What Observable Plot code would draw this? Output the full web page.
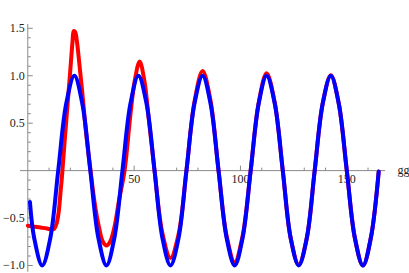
<!DOCTYPE html>
<html>
<head>
<meta charset="utf-8">
<script src="https://cdn.jsdelivr.net/npm/d3@7"></script>
<script src="https://cdn.jsdelivr.net/npm/@observablehq/plot@0.6"></script>
<style>
  html, body { margin: 0; padding: 0; background: #fff; }
  svg { display: block; }
</style>
</head>
<body>
<div id="chart"></div>
<script>
// Blue (steady) curve
const blueX = [1, 3.0, 6.8, 10.6, 14.3, 18.1, 21.9, 25.6, 29.4, 33.2, 37.0, 40.7, 44.5, 48.3, 52.0, 55.8, 59.6, 63.3, 67.1, 70.9, 74.6, 78.4, 82.2, 85.9, 89.7, 93.5, 97.3, 101.0, 104.8, 108.6, 112.3, 116.1, 119.9, 123.6, 127.4, 131.2, 134.9, 138.7, 142.5, 146.2, 150.0, 153.8, 157.6, 161.3, 165.0];
const blueY = [-0.33, -0.71, -1, -0.71, 0, 0.71, 1, 0.71, 0, -0.71, -1, -0.71, 0, 0.71, 1, 0.71, 0, -0.71, -1, -0.71, 0, 0.71, 1, 0.71, 0, -0.71, -1, -0.71, 0, 0.71, 1, 0.71, 0, -0.71, -1, -0.71, 0, 0.71, 1, 0.71, 0, -0.71, -1, -0.71, -0.01];

// Red (transient) curve
const redX = [0, 3, 6, 9, 11.5, 12.5, 13.5, 14.5, 15.5, 16.0, 17.5, 19.0, 20.2, 21.0, 21.6, 22.3, 23.0, 24.0, 25.5, 27.5, 29.5, 31.5, 33.5, 35.3, 37.0, 38.7, 40.7, 43.0, 45.5, 48.3, 50.3, 52.6, 54.8, 57.0, 59.6, 63.3, 67.1, 70.9, 74.6, 78.4, 82.2, 85.9, 89.7, 93.5, 97.3, 101.0, 104.8, 108.6, 112.3, 116.1, 119.9, 123.6, 127.4, 131.2, 134.9, 138.7, 142.5, 146.2, 150.0, 153.8, 157.6, 161.3, 165.0];
const redY = [-0.58, -0.59, -0.60, -0.61, -0.62, -0.61, -0.56, -0.44, -0.2, -0.08, 0.36, 0.78, 1.12, 1.35, 1.47, 1.46, 1.38, 1.18, 0.85, 0.38, 0, -0.35, -0.6, -0.75, -0.79, -0.75, -0.6, -0.3, 0, 0.6, 0.95, 1.15, 0.95, 0.52, 0, -0.66, -0.92, -0.67, 0, 0.73, 1.05, 0.74, 0, -0.69, -0.965, -0.69, 0, 0.72, 1.025, 0.72, 0, -0.71, -0.99, -0.71, 0, 0.71, 1.005, 0.71, 0, -0.71, -1, -0.71, -0.01];

// Axis ticks and labels
const xMajor = [50, 100, 150];
const xMinor = [10, 20, 30, 40, 60, 70, 80, 90, 110, 120, 130, 140, 160];
const yMajor = [-1.0, -0.5, 0.5, 1.0, 1.5];
const yMinor = [-0.9, -0.8, -0.7, -0.6, -0.4, -0.3, -0.2, -0.1, 0.1, 0.2, 0.3, 0.4, 0.6, 0.7, 0.8, 0.9, 1.1, 1.2, 1.3, 1.4];
const xLabels = ["50", "100", "150"];
const yLabels = ["\u22121.0", "\u22120.5", "0.5", "1.0", "1.5"];
const xAxisLabel = "gg";

const W = 409, H = 273;
const mL = 20, mR = 24, mT = 24, mB = 1.35;
const xDom = [-3.43, 168.2], yDom = [-1.07, 1.54];
const pxX = (W - mL - mR) / (xDom[1] - xDom[0]);
const pxY = (H - mT - mB) / (yDom[1] - yDom[0]);
const majLen = 5, minLen = 3;
const axisColor = "#8a8a8a";
const font = "'Liberation Serif', 'Times New Roman', serif";

const blue = blueX.map((x, i) => ({x, y: blueY[i]}));
const red = redX.map((x, i) => ({x, y: redY[i]}));
const xTicks = [...xMajor.map(v => ({v, l: majLen})), ...xMinor.map(v => ({v, l: minLen}))];
const yTicks = [...yMajor.map(v => ({v, l: majLen})), ...yMinor.map(v => ({v, l: minLen}))];

const plot = Plot.plot({
  width: W, height: H,
  marginLeft: mL, marginRight: mR, marginTop: mT, marginBottom: mB,
  x: {domain: xDom, axis: null},
  y: {domain: yDom, axis: null},
  style: {fontFamily: font, background: "#fff", overflow: "visible"},
  marks: [
    Plot.ruleY([0], {x1: xDom[0], x2: xDom[1], stroke: axisColor, strokeWidth: 1}),
    Plot.ruleX([0], {y1: yDom[0], y2: yDom[1], stroke: axisColor, strokeWidth: 1}),
    Plot.link(xTicks, {x1: d => d.v, x2: d => d.v, y1: 0, y2: d => d.l / pxY, stroke: axisColor, strokeWidth: 1}),
    Plot.link(yTicks, {y1: d => d.v, y2: d => d.v, x1: 0, x2: d => d.l / pxX, stroke: axisColor, strokeWidth: 1}),
    Plot.text(xMajor, {x: d => d, y: 0, text: (d, i) => xLabels[i], dy: 9, fontSize: 12, fill: "#222", textAnchor: "middle"}),
    Plot.text(yMajor, {x: 0, y: d => d, text: (d, i) => yLabels[i], dx: -3, fontSize: 12, fill: "#222", textAnchor: "end"}),
    Plot.text([xAxisLabel], {x: xDom[1], y: 0, text: d => d, dx: 12, dy: 0, fontSize: 12, fill: "#222", textAnchor: "start"}),
    Plot.line(red, {x: "x", y: "y", stroke: "#ff0000", strokeWidth: 4, curve: "catmull-rom"}),
    Plot.line(blue, {x: "x", y: "y", stroke: "#0000ff", strokeWidth: 4, curve: "catmull-rom"})
  ]
});
document.getElementById("chart").appendChild(plot);
</script>
</body>
</html>
